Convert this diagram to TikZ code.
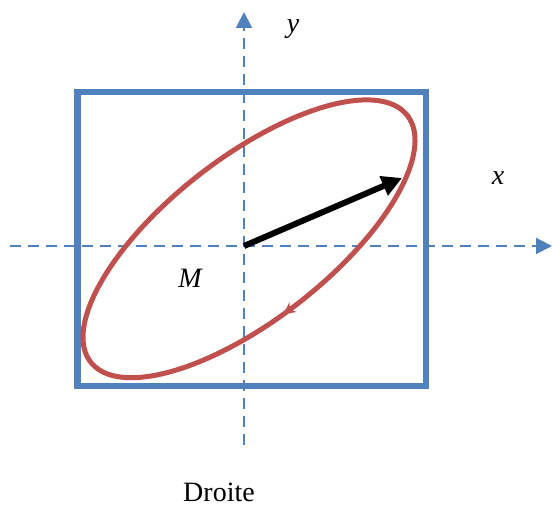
\documentclass[tikz,border=0pt]{standalone}
\usepackage{fontspec}
\setmainfont{Liberation Serif}
\usetikzlibrary{arrows.meta}
\definecolor{axisblue}{HTML}{4F81BD}
\definecolor{ellred}{HTML}{C0504D}
\tikzset{
  axis/.style={axisblue, line width=2pt, dash pattern=on 11pt off 7pt, -{Triangle[length=16pt,width=16pt]}},
  frame/.style={axisblue, line width=6.5pt},
  orbit/.style={ellred, line width=5pt},
  vec/.style={black, line width=6pt, -{Triangle[length=20pt,width=20pt]}},
  lab/.style={font=\fontsize{28}{30}\selectfont, inner sep=0pt}
}
\newcommand{\ex}[1]{{249+158.37*cos(#1)-49.82*sin(#1)}}
\newcommand{\ey}[1]{{238.8-123.29*cos(#1)-64.00*sin(#1)}}
\begin{document}
\begin{tikzpicture}[x=1pt,y=-1pt]
\useasboundingbox (0,0) rectangle (552,510);
\coordinate (O) at (244,246);
\coordinate (xs) at (10,246);
\coordinate (xe) at (552,246);
\coordinate (ys) at (244,445);
\coordinate (ye) at (244,12);
\coordinate (V) at (402,178);
\draw[frame] (77.5,92) rectangle (426,386);
\draw[axis] (xs) -- (xe);
\draw[axis] (ys) -- (ye);
\draw[orbit] plot[domain=0:360, samples=120, smooth cycle] ({\ex{\x}},{\ey{\x}});
\coordinate (a1) at ({\ex{270}},{\ey{270}});
\coordinate (a2) at ({\ex{264.5}},{\ey{264.5}});
\draw[ellred, line width=1.5pt, -{Stealth[length=12pt,width=12pt]}] (a1) -- (a2);
\draw[vec] (O) -- (V);
\node[lab, font=\fontsize{28}{30}\selectfont\itshape] (ly) at (293,29) {y};
\node[lab, font=\fontsize{28}{30}\selectfont\itshape] (lx) at (498,178) {x};
\node[lab, font=\fontsize{28}{30}\selectfont\itshape] (lM) at (190,278) {M};
\node[lab] (lD) at (219,492) {Droite};
\end{tikzpicture}
\end{document}
